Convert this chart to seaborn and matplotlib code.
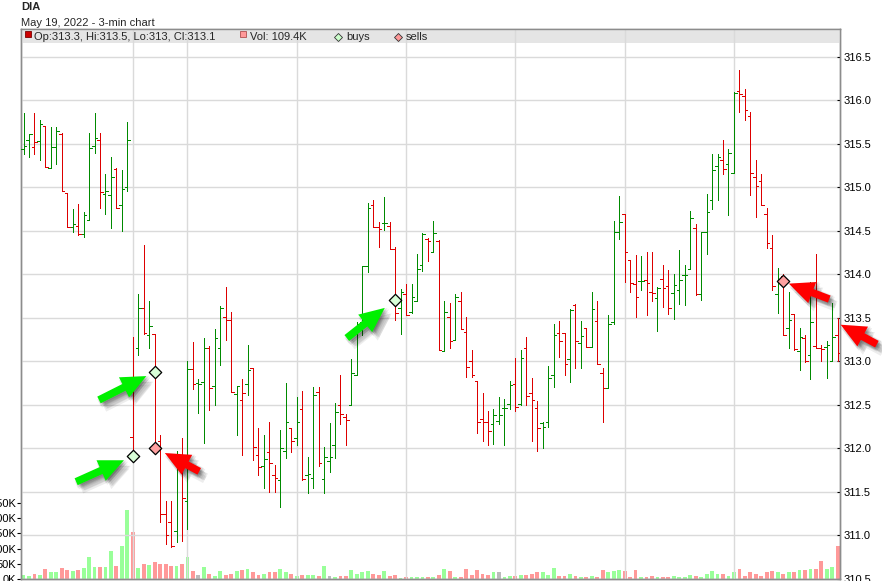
import numpy as np
import pandas as pd
import matplotlib
matplotlib.use("Agg")
import matplotlib.pyplot as plt
import matplotlib.patheffects as pe
from matplotlib.patches import Rectangle
import seaborn as sns

sns.set_style("white")
plt.rcParams["font.family"] = ["Liberation Sans", "DejaVu Sans"]

# ---------------- data (3-min bars, DIA, May 19 2022) ----------------
prev_close = 315.30
bar_open = [315.44, 315.54, 315.46, 315.53, 315.71, 315.22, 315.46, 315.62, 314.94, 314.55,
            314.56, 314.47, 314.63, 315.48, 315.54, 314.93, 314.91, 315.21, 314.80, 315.00,
            312.13, 313.16, 313.62, 313.31, 313.32, 312.09, 311.25, 311.16, 311.05, 311.90,
            311.40, 312.91, 312.75, 312.76, 313.16, 312.72, 313.15, 313.51, 313.48, 312.63,
            312.56, 312.74, 312.92, 311.92, 311.80, 311.96, 311.70, 311.64, 311.97, 312.24,
            312.12, 312.45, 311.70, 311.66, 312.65, 311.65, 311.86, 312.04, 312.50, 312.36,
            312.50, 312.85, 313.45, 314.10, 314.80, 314.54, 314.59, 314.56, 314.29, 313.61,
            313.77, 313.57, 313.70, 314.11, 314.41, 314.26, 314.38, 313.12, 313.51, 313.25,
            313.70, 313.34, 313.00, 312.78, 312.34, 312.30, 312.28, 312.32, 312.47, 312.51,
            312.74, 312.51, 313.16, 312.64, 312.47, 312.29, 312.30, 312.85, 313.33, 313.33,
            313.03, 313.65, 313.21, 313.38, 313.17, 313.46, 312.87, 312.70, 313.45, 314.49,
            314.69, 314.17, 313.89, 313.93, 313.94, 313.80, 313.73, 313.95, 313.87, 313.79,
            313.82, 313.99, 314.06, 314.53, 313.77, 314.49, 314.86, 315.25, 315.31, 315.27,
            315.17, 316.11, 316.05, 315.82, 315.12, 315.07, 314.70, 314.30, 313.78, 313.98,
            313.38, 313.55, 313.12, 313.27, 313.08, 313.18, 313.16, 313.17, 313.01, 313.30]
bar_high = [315.86, 315.62, 315.85, 315.78, 315.71, 315.69, 315.70, 315.63, 314.94, 314.75,
            314.81, 314.72, 315.63, 315.85, 315.63, 315.16, 315.35, 315.22, 315.20, 315.75,
            313.28, 313.77, 314.34, 313.70, 313.32, 312.15, 311.40, 311.40, 311.97, 312.12,
            313.01, 313.22, 312.80, 313.27, 313.18, 313.37, 313.64, 313.86, 313.57, 312.72,
            312.80, 313.19, 312.92, 312.23, 312.15, 312.30, 311.81, 312.21, 312.75, 312.24,
            312.59, 312.66, 311.90, 312.71, 312.71, 312.02, 312.29, 312.52, 312.85, 312.40,
            313.03, 313.45, 314.10, 314.82, 314.86, 314.60, 314.89, 314.60, 314.32, 313.83,
            313.89, 313.89, 314.24, 314.48, 314.42, 314.62, 314.40, 313.70, 313.67, 313.78,
            313.80, 313.51, 313.13, 312.78, 312.64, 312.43, 312.45, 312.59, 312.57, 312.78,
            313.04, 313.13, 313.28, 312.81, 312.55, 312.31, 312.95, 313.43, 313.47, 313.33,
            313.60, 313.66, 313.47, 313.38, 313.80, 313.70, 312.92, 313.53, 314.62, 314.90,
            314.69, 314.17, 314.22, 314.21, 314.26, 314.26, 313.86, 314.11, 314.05, 314.00,
            314.28, 314.11, 314.73, 314.58, 314.49, 314.93, 315.39, 315.39, 315.54, 315.44,
            316.10, 316.35, 316.13, 315.87, 315.32, 315.16, 314.76, 314.45, 314.08, 314.00,
            313.80, 313.55, 313.39, 313.30, 313.91, 314.23, 313.19, 313.24, 313.67, 313.50]
bar_low = [315.38, 315.35, 315.38, 315.32, 315.24, 315.22, 315.27, 314.96, 314.54, 314.49,
           314.45, 314.43, 314.63, 315.40, 314.76, 314.69, 314.53, 314.76, 314.50, 314.96,
           311.90, 313.07, 313.32, 313.15, 311.95, 311.16, 310.90, 310.87, 310.93, 310.94,
           311.07, 312.68, 312.41, 312.06, 312.44, 312.50, 312.96, 313.25, 312.65, 312.15,
           311.92, 312.61, 311.87, 311.70, 311.55, 311.50, 311.50, 311.33, 311.89, 311.96,
           312.04, 311.64, 311.49, 311.55, 311.80, 311.49, 311.73, 311.89, 312.28, 312.04,
           312.50, 312.85, 313.30, 314.03, 314.55, 314.32, 314.51, 314.29, 313.48, 313.32,
           313.53, 313.56, 313.70, 314.04, 314.16, 314.26, 313.13, 313.12, 313.15, 313.25,
           313.37, 312.82, 312.82, 312.18, 312.09, 312.04, 312.05, 312.28, 312.04, 312.45,
           312.43, 312.50, 312.50, 312.09, 311.97, 312.00, 312.25, 312.71, 313.05, 312.84,
           312.76, 312.92, 312.92, 313.17, 313.17, 312.97, 312.31, 312.70, 313.43, 314.41,
           313.91, 313.80, 313.51, 313.82, 313.53, 313.69, 313.35, 313.63, 313.54, 313.49,
           313.66, 313.65, 314.06, 313.76, 313.71, 314.24, 314.75, 314.86, 315.15, 314.68,
           315.17, 315.87, 315.78, 314.91, 314.66, 314.80, 314.30, 313.82, 313.56, 313.30,
           313.16, 313.13, 312.90, 312.99, 312.80, 313.15, 313.01, 312.81, 313.01, 313.00]
bar_close = [315.48, 315.62, 315.52, 315.73, 315.24, 315.46, 315.65, 314.96, 314.55, 314.58,
             314.46, 314.68, 315.45, 315.57, 314.95, 314.96, 315.12, 314.76, 314.98, 315.54,
             311.92, 313.62, 313.33, 313.41, 312.00, 311.25, 311.01, 310.88, 311.85, 311.43,
             312.91, 312.74, 312.74, 313.16, 312.69, 313.27, 313.62, 313.48, 312.65, 312.72,
             312.64, 312.90, 312.02, 311.79, 311.88, 311.83, 311.66, 312.00, 312.30, 312.09,
             312.30, 311.65, 311.71, 312.62, 311.83, 311.90, 311.90, 312.42, 312.40, 312.33,
             312.87, 313.43, 314.10, 314.76, 314.55, 314.52, 314.59, 314.29, 313.56, 313.80,
             313.53, 313.74, 314.06, 314.47, 314.39, 314.48, 313.13, 313.57, 313.24, 313.74,
             313.37, 312.94, 312.85, 312.31, 312.30, 312.20, 312.39, 312.39, 312.47, 312.73,
             312.48, 313.04, 312.60, 312.56, 312.23, 312.25, 312.81, 313.30, 313.24, 312.97,
             313.59, 313.24, 313.29, 313.17, 313.60, 312.97, 312.70, 313.43, 314.49, 314.60,
             314.26, 313.90, 313.74, 313.93, 313.90, 313.79, 313.85, 313.84, 313.62, 313.88,
             313.94, 313.99, 314.65, 313.77, 314.49, 314.72, 315.20, 315.35, 315.21, 315.40,
             316.09, 316.07, 315.89, 315.17, 315.02, 314.80, 314.36, 313.87, 313.91, 313.31,
             313.48, 313.14, 313.28, 313.00, 313.45, 313.16, 313.14, 313.19, 313.28, 313.10]
volume_k = [14.8, 11.5, 18.0, 14.8, 34.5, 21.4, 21.4, 37.8, 30.2, 24.7,
            31.0, 37.8, 74.0, 41.0, 41.0, 41.0, 93.7, 44.4, 107.0, 226.0,
            153.0, 37.8, 47.7, 46.0, 54.3, 47.7, 47.7, 42.0, 42.0, 47.7,
            74.0, 24.7, 14.8, 41.0, 18.0, 11.5, 24.7, 14.8, 18.0, 24.7,
            28.0, 34.5, 21.4, 14.8, 18.0, 21.4, 21.4, 34.5, 21.4, 17.0,
            11.5, 14.8, 14.8, 14.8, 11.5, 44.4, 11.5, 5.0, 11.5, 11.5,
            28.0, 18.0, 21.4, 24.7, 18.0, 14.8, 24.7, 11.5, 14.8, 3.9,
            5.0, 5.0, 5.0, 8.2, 8.2, 5.0, 14.8, 34.5, 24.7, 8.2,
            8.2, 34.5, 14.8, 28.0, 18.0, 14.8, 21.4, 21.4, 8.2, 11.5,
            11.5, 14.8, 14.8, 18.0, 21.4, 21.4, 14.8, 37.8, 11.5, 11.5,
            18.0, 11.5, 8.2, 8.2, 11.5, 8.2, 28.0, 21.4, 24.7, 28.0,
            24.7, 8.2, 31.0, 8.2, 8.2, 11.5, 8.2, 8.2, 8.2, 11.5,
            8.2, 8.2, 14.8, 11.5, 8.2, 18.0, 24.7, 18.0, 18.0, 11.5,
            21.4, 34.5, 11.5, 21.4, 18.0, 11.5, 21.4, 24.7, 21.4, 18.0,
            21.4, 21.4, 31.0, 28.0, 34.5, 34.5, 57.6, 34.5, 41.0, 109.4]
buy_bar = [20, 24, 68]
buy_price = [311.91, 312.88, 313.71]
sell_bar = [24, 139]
sell_price = [312.01, 313.92]
time_tick_bars = [0, 20, 30, 50, 70, 90, 110, 130]
grid_bars = [20, 30, 50, 70, 90, 110, 130]
price_ticks = [310.5, 311.0, 311.5, 312.0, 312.5, 313.0, 313.5, 314.0, 314.5, 315.0, 315.5, 316.0, 316.5]
vol_ticks_k = [0, 50, 100, 150, 200, 250]

# ---------------- derived ----------------
o = np.array(bar_open); h = np.array(bar_high); l = np.array(bar_low); c = np.array(bar_close)
n = len(c)
idx = np.arange(n)
prev = np.concatenate([[prev_close], c[:-1]])
direction = np.where(c > prev + 1e-9, "up", np.where(c < prev - 1e-9, "down", "flat"))
price_col = {"up": "#008a00", "down": "#dd0000", "flat": "#008a00"}
vol_pal = {"up": "#99ff99", "down": "#ff9999", "flat": "#bbbbbb"}
bar_colors = [price_col[d] for d in direction]

FW, FH = 882, 581
fig = plt.figure(figsize=(FW / 100, FH / 100), dpi=100)
ax_l, ax_r, ax_t, ax_b = 21, 840, 29.3, 579.0
axv = fig.add_axes([ax_l / FW, (FH - ax_b) / FH, (ax_r - ax_l) / FW, (ax_b - ax_t) / FH])
ax = axv.twinx()

# volume (behind)
vol_df = pd.DataFrame({"bar": idx, "volume": np.array(volume_k) * 1000, "dir": direction})
sns.barplot(data=vol_df, x="bar", y="volume", hue="dir", palette=vol_pal, native_scale=True,
            dodge=False, width=0.7, linewidth=0, saturation=1, legend=False, errorbar=None, ax=axv)
axv.set_ylim(0, (ax_b - ax_t) / 15.2 * 50000)
axv.set_yticks([v * 1000 for v in vol_ticks_k])
axv.set_yticklabels([f"{v}K" for v in vol_ticks_k])
axv.set_xlabel(""); axv.set_ylabel("")

# price OHLC
lw_px = 0.72
ax.vlines(idx, l, h, colors=bar_colors, linewidth=lw_px, zorder=3, antialiased=False)
ax.hlines(o, idx - 0.47, idx, colors=bar_colors, linewidth=lw_px, zorder=3, antialiased=False)
ax.hlines(c, idx, idx + 0.47, colors=bar_colors, linewidth=lw_px, zorder=3, antialiased=False)

sns.scatterplot(x=buy_bar, y=buy_price, marker="D", s=40, color="#d8ffd8", edgecolor="black",
                linewidth=0.9, ax=ax, zorder=5, legend=False)
sns.scatterplot(x=sell_bar, y=sell_price, marker="D", s=40, color="#ffa0a0", edgecolor="black",
                linewidth=0.9, ax=ax, zorder=5, legend=False)

ax.set_ylim(313 - (ax_b - 362.2) / 87.2, 313 + (362.2 - ax_t) / 87.2)
x0 = (ax_l - 23.5) / 5.465
x1 = (ax_r - 23.5) / 5.465
ax.set_xlim(x0, x1)
axv.set_xlim(x0, x1)

# grid
ax.set_yticks(price_ticks)
ax.set_yticklabels([f"{p:.1f}" for p in price_ticks])
ax.set_axisbelow(True)
ax.grid(axis="y", color="#dadada", linewidth=1.0)
for gb in grid_bars:
    ax.axvline(gb, color="#dadada", linewidth=1.0, zorder=0.5)
ax.grid(axis="x", visible=False)
axv.grid(False)

axv.set_xticks(time_tick_bars)
axv.set_xticklabels([])

spine_col = "#8c8c8c"
for a in (ax, axv):
    for s in a.spines.values():
        s.set_color(spine_col)
        s.set_linewidth(1.0)
ax.tick_params(axis="y", direction="in", length=2.5, width=0.8, color="black", pad=2.6,
               labelsize=8, labelcolor="black")
axv.tick_params(axis="y", direction="out", length=3, width=0.8, color="black", pad=0.6,
                labelsize=8, labelcolor="black")
axv.tick_params(axis="x", direction="out", length=3, width=0.8, color="black")

# legend band
def fx(px):
    return (px - ax_l) / (ax_r - ax_l)

def fy(py):
    return (ax_b - py) / (ax_b - ax_t)

ax.add_patch(Rectangle((0, fy(42.7)), 1, 1 - fy(42.7), transform=ax.transAxes,
                       facecolor="#e5e5e5", edgecolor="none", zorder=0.3))
ax.plot([fx(28)], [fy(34)], marker="s", ms=4.8, mfc="#cc0000", mec="#7a0000", mew=0.6,
        transform=ax.transAxes, clip_on=False, zorder=6)
ax.plot([fx(243)], [fy(34)], marker="s", ms=4.8, mfc="#ff9999", mec="#b05050", mew=0.6,
        transform=ax.transAxes, clip_on=False, zorder=6)
ax.plot([fx(338.3)], [fy(36.7)], marker="D", ms=4.2, mfc="#ccffcc", mec="#333333", mew=0.6,
        transform=ax.transAxes, clip_on=False, zorder=6)
ax.plot([fx(397.5)], [fy(36.7)], marker="D", ms=4.2, mfc="#ff9999", mec="#333333", mew=0.6,
        transform=ax.transAxes, clip_on=False, zorder=6)
ohlc_txt = f"Op:{o[-1]:g}, Hi:{h[-1]:g}, Lo:{l[-1]:g}, Cl:{c[-1]:g}"
ax.text(fx(34), fy(39.5), ohlc_txt, transform=ax.transAxes, fontsize=8, va="baseline", zorder=6)
ax.text(fx(250), fy(39.5), f"Vol: {volume_k[-1]:g}K", transform=ax.transAxes, fontsize=8,
        va="baseline", zorder=6)
ax.text(fx(346.7), fy(39.5), "buys", transform=ax.transAxes, fontsize=8, va="baseline", zorder=6)
ax.text(fx(406), fy(39.5), "sells", transform=ax.transAxes, fontsize=8, va="baseline", zorder=6)

# titles
fig.text(21 / FW, 1 - 10.4 / FH, "DIA", fontsize=8, fontweight="bold", va="baseline")
fig.text(21 / FW, 1 - 26 / FH, "May 19, 2022 - 3-min chart", fontsize=8, va="baseline")

# arrows
shadow = [pe.SimplePatchShadow(offset=off, shadow_rgbFace="black", alpha=0.07)
          for off in [(1, -1), (2, -2), (3, -3), (4, -4), (3, -1), (1, -3), (5, -4), (4, -6), (0, -2), (2, 0)]]
shadow.append(pe.Normal())

def arrow(x, y, dx, dy, color, shrink):
    ann = ax.annotate("", xy=(x, y), xytext=(dx, dy), textcoords="offset points",
                      arrowprops=dict(arrowstyle="simple,head_length=1.0,head_width=0.9,tail_width=0.3",
                                      fc=color, ec="none", shrinkA=0, shrinkB=shrink,
                                      mutation_scale=18),
                      annotation_clip=False, zorder=7)
    ann.arrow_patch.set_path_effects(shadow)
    ann.arrow_patch.set_clip_on(False)

green_arrow = "#00f000"
red_arrow = "#ff0000"
arrow(buy_bar[0], buy_price[0], -40.8, -18.3, green_arrow, 7)
arrow(buy_bar[1], buy_price[1], -40.1, -20.2, green_arrow, 6.7)
arrow(buy_bar[2], buy_price[2], -34.8, -27.6, green_arrow, 9.5)
arrow(sell_bar[0], sell_price[0], 32.1, -17.1, red_arrow, 8.3)
arrow(sell_bar[1], sell_price[1], 33.2, -12.7, red_arrow, 4.4)
arrow(idx[-1] + 0.3, h[-1] - 0.07, 27.0, -14.5, red_arrow, 1.0)

fig.savefig("out.png", dpi=100)
